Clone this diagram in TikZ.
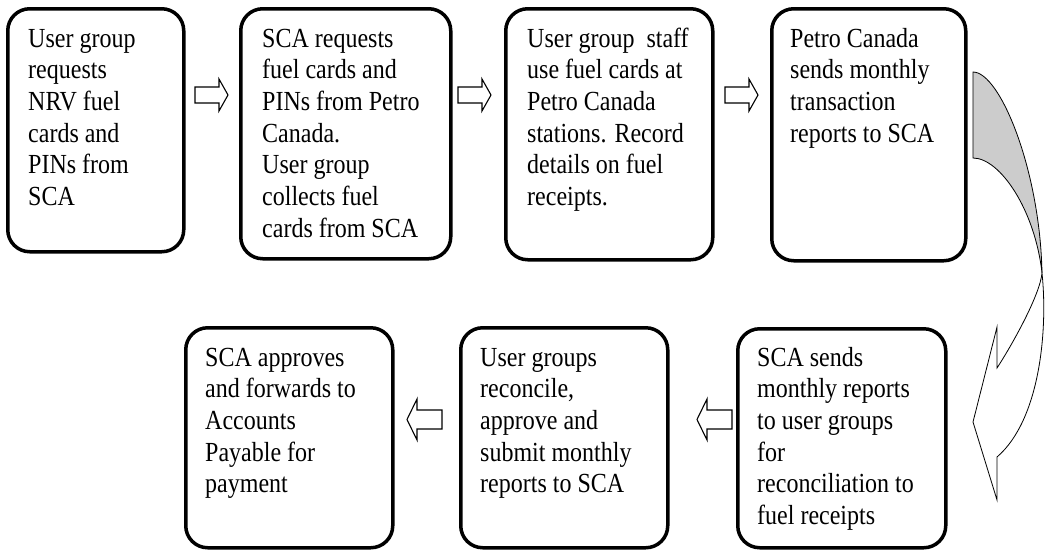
\documentclass[tikz,border=0pt]{standalone}
\usepackage{fontspec}
\usepackage{graphicx}
\setmainfont{Liberation Serif}
\newcommand{\tallbox}[1]{\scalebox{1}[1.15]{\begin{tabular}{@{}l@{}}#1\end{tabular}}}
\begin{document}
\begin{tikzpicture}[x=1pt,y=-1pt,
  box/.style={draw, line width=3.5pt, rounded corners=22pt, inner sep=0pt, anchor=north west},
  txt/.style={anchor=north west, inner sep=0pt, font=\fontsize{24}{27.5}\selectfont},
  blockarrow/.style={draw, line width=1.1pt, fill=white, line join=miter},
  ribbonback/.style={draw, line width=0.8pt, fill=black!20},
  ribbonfront/.style={draw, line width=0.8pt, fill=white}]
\useasboundingbox (0,0) rectangle (1047,550);

% boxes
\node[box, minimum width=176pt, minimum height=243pt] (b1) at (6,7) {};
\node[box, minimum width=210pt, minimum height=250pt] (b2) at (239,7) {};
\node[box, minimum width=207pt, minimum height=251pt] (b3) at (504,7) {};
\node[box, minimum width=194pt, minimum height=252pt] (b4) at (770,7) {};
\node[box, minimum width=208pt, minimum height=219pt] (b5) at (736,327) {};
\node[box, minimum width=207pt, minimum height=220pt] (b6) at (459,326) {};
\node[box, minimum width=207pt, minimum height=220pt] (b7) at (184,326) {};

% texts
\node[txt] (t1) at (28,25) {\tallbox{User group\\requests\\NRV fuel\\cards and\\PINs from\\SCA}};
\node[txt] (t2) at (262,25) {\tallbox{SCA requests\\fuel cards and\\PINs from Petro\\Canada.\\User group\\collects fuel\\cards from SCA}};
\node[txt] (t3) at (527,25) {\tallbox{User group\ \ staff\\use fuel cards at\\Petro Canada\\stations. Record\\details on fuel\\receipts.}};
\node[txt] (t4) at (790,25) {\tallbox{Petro Canada\\sends monthly\\transaction\\reports to SCA}};
\node[txt] (t5) at (757,344) {\tallbox{SCA sends\\monthly reports\\to user groups\\for\\reconciliation to\\fuel receipts}};
\node[txt] (t6) at (480,344) {\tallbox{User groups\\reconcile,\\approve and\\submit monthly\\reports to SCA}};
\node[txt] (t7) at (205,344) {\tallbox{SCA approves\\and forwards to\\Accounts\\Payable for\\payment}};

% block arrows (right)
\draw[blockarrow] (195,87) -- (219,87) -- (219,79) -- (228,95) -- (219,111) -- (219,103) -- (195,103) -- cycle;
\draw[blockarrow] (458,87) -- (482,87) -- (482,79) -- (491,95) -- (482,111) -- (482,103) -- (458,103) -- cycle;
\draw[blockarrow] (725,87) -- (749,87) -- (749,79) -- (758,95) -- (749,111) -- (749,103) -- (725,103) -- cycle;
% block arrows (left)
\draw[blockarrow] (442,410) -- (417,410) -- (417,399) -- (407,419.5) -- (417,440) -- (417,429) -- (442,429) -- cycle;
\draw[blockarrow] (732,410) -- (707,410) -- (707,399) -- (697,419.5) -- (707,440) -- (707,429) -- (732,429) -- cycle;

% curved ribbon arrow from b4 to b5
\path[ribbonback] (973,72) .. controls (1000,72) and (1040,170) .. (1042,273)
  .. controls (1035,210) and (1000,158) .. (973,158) -- cycle;
\path[ribbonfront] (1042,273) .. controls (1040,295) and (1012,345) .. (997,368)
  -- (997,327) -- (973,422) -- (997,500) -- (997,457)
  .. controls (1040,420) and (1048,330) .. (1042,273) -- cycle;
\end{tikzpicture}
\end{document}
